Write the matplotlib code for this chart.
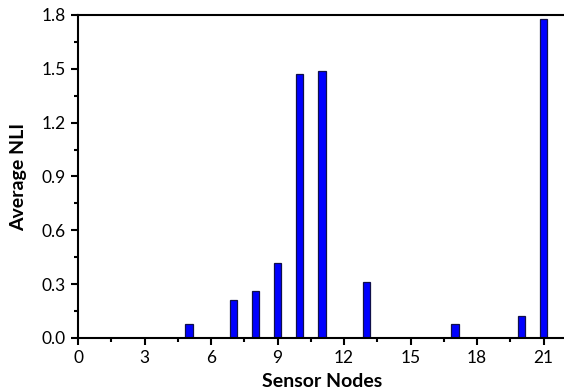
import matplotlib
matplotlib.use('Agg')
import matplotlib.pyplot as plt
from matplotlib.ticker import MultipleLocator

# data
nodes = [5, 7, 8, 9, 10, 11, 13, 17, 20, 21]
nli = [0.08, 0.21, 0.26, 0.42, 1.47, 1.49, 0.31, 0.08, 0.12, 1.78]

plt.rcParams['font.family'] = ['Lato', 'DejaVu Sans']

fig = plt.figure(figsize=(5.64, 3.92), dpi=100)
ax = fig.add_axes([0.1383, 0.1378, 0.865, 0.824])

ax.bar(nodes, nli, width=0.33, color='#0000ff', edgecolor='#10104a', linewidth=0.9)

ax.set_xlim(0, 22)
ax.set_ylim(0, 1.8)
ax.xaxis.set_major_locator(MultipleLocator(3))
ax.xaxis.set_minor_locator(MultipleLocator(1.5))
ax.yaxis.set_major_locator(MultipleLocator(0.3))
ax.yaxis.set_minor_locator(MultipleLocator(0.15))
ax.yaxis.set_major_formatter(matplotlib.ticker.FormatStrFormatter('%.1f'))

ax.spines['right'].set_visible(False)
for s in ['left', 'bottom', 'top']:
    ax.spines[s].set_linewidth(1.5)

ax.tick_params(which='major', direction='out', length=5, width=1.5, labelsize=12.5, pad=4)
ax.tick_params(which='minor', direction='out', length=3, width=1.5)

ax.set_xlabel('Sensor Nodes', fontsize=14, fontweight='bold', labelpad=5)
ax.set_ylabel('Average NLI', fontsize=14, fontweight='bold', labelpad=10)

fig.savefig('out.png', dpi=100)
